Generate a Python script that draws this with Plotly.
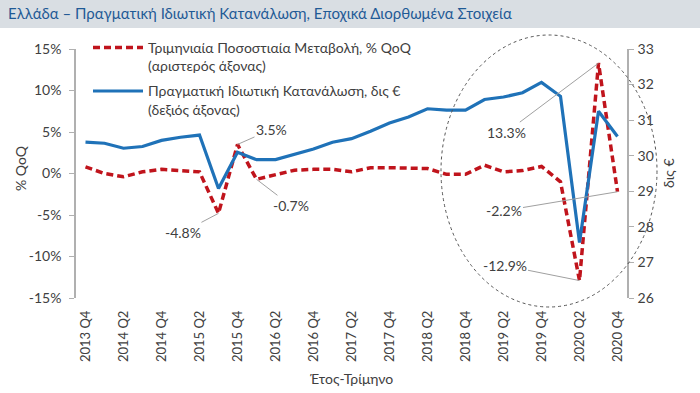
import plotly.graph_objects as go

quarters = ["2013 Q4",
            "2014 Q1", "2014 Q2", "2014 Q3", "2014 Q4",
            "2015 Q1", "2015 Q2", "2015 Q3", "2015 Q4",
            "2016 Q1", "2016 Q2", "2016 Q3", "2016 Q4",
            "2017 Q1", "2017 Q2", "2017 Q3", "2017 Q4",
            "2018 Q1", "2018 Q2", "2018 Q3", "2018 Q4",
            "2019 Q1", "2019 Q2", "2019 Q3", "2019 Q4",
            "2020 Q1", "2020 Q2", "2020 Q3", "2020 Q4"]

qoq_pct = [0.8, 0.0, -0.4, 0.2, 0.5, 0.3, 0.2, -4.8, 3.5, -0.7,
           -0.2, 0.4, 0.5, 0.5, 0.2, 0.7, 0.7, 0.6, 0.6, -0.1,
           -0.1, 1.0, 0.2, 0.35, 0.85, -1.0, -12.9, 13.3, -2.2]

consumption_bn = [30.38, 30.35, 30.21, 30.26, 30.43, 30.52, 30.58, 29.08, 30.10, 29.89,
                  29.89, 30.05, 30.19, 30.38, 30.48, 30.69, 30.92, 31.09, 31.32, 31.28,
                  31.28, 31.58, 31.65, 31.77, 32.06, 31.67, 27.56, 31.25, 30.54]

left_ticks = [-15, -10, -5, 0, 5, 10, 15]
right_ticks = [26, 27, 28, 29, 30, 31, 32, 33]

# labelled points: (index, text, ax, ay)
labels = [(8, "3.5%", 34, -15), (9, "-0.7%", 34, 26), (7, "-4.8%", -36, 19),
          (27, "13.3%", -92, 69), (28, "-2.2%", -114, 19), (26, "-12.9%", -75, -15)]

FONT = "Lato"
TXT = "#404040"
AX = "#b0b0b0"
RED = "#c0141c"
BLUE = "#1f72b8"

fig = go.Figure()
fig.add_trace(go.Scatter(
    x=quarters, y=qoq_pct, mode="lines", yaxis="y", xaxis="x",
    name="Τριμηνιαία Ποσοστιαία Μεταβολή, % QoQ<br>(αριστερός άξονας)",
    line=dict(color=RED, width=3.5, dash="7px,4px"), legendgroup="a"))
fig.add_trace(go.Scatter(
    x=quarters, y=consumption_bn, mode="lines", yaxis="y2", xaxis="x",
    name="Πραγματική Ιδιωτική Κατανάλωση, δις €<br>(δεξιός άξονας)",
    line=dict(color=BLUE, width=3.2), legendgroup="b"))

L, R, T, B = 76, 73, 49, 95
W, H = 700, 393
pw, ph = W - L - R, H - T - B


def px_x(px):
    return (px - L) / pw


def px_y(py):
    return (H - B - py) / ph


annotations = []
for i, txt, ax, ay in labels:
    annotations.append(dict(
        x=quarters[i], y=qoq_pct[i], xref="x", yref="y", text=txt,
        showarrow=True, arrowhead=0, arrowwidth=1, arrowcolor="#a0a0a0",
        ax=ax, ay=ay, font=dict(family=FONT, size=14, color=TXT)))

annotations += [
    dict(text="% QoQ", xref="paper", yref="paper", x=px_x(20), y=px_y(168),
         xanchor="center", yanchor="middle",
         textangle=-90, showarrow=False, font=dict(family=FONT, size=14, color=TXT)),
    dict(text="δις €", xref="paper", yref="paper", x=px_x(668), y=px_y(173),
         xanchor="center", yanchor="middle",
         textangle=-90, showarrow=False, font=dict(family=FONT, size=14, color=TXT)),
    dict(text="Έτος-Τρίμηνο", xref="paper", yref="paper", x=0.5, y=px_y(378),
         xanchor="center", yanchor="middle",
         showarrow=False, font=dict(family=FONT, size=14, color=TXT)),
]

shapes = [
    dict(type="rect", xref="paper", yref="paper", x0=px_x(0), x1=px_x(W),
         y0=px_y(0), y1=px_y(28), fillcolor="#d9dee3", line=dict(width=0), layer="below"),
    dict(type="circle", xref="paper", yref="paper", x0=px_x(441), x1=px_x(657),
         y0=px_y(307), y1=px_y(35), line=dict(color="#555555", width=1, dash="dot")),
]

fig.update_layout(
    width=W, height=H,
    margin=dict(l=L, r=R, t=T, b=B, autoexpand=False),
    paper_bgcolor="white", plot_bgcolor="white",
    font=dict(family=FONT, size=14, color=TXT),
    title=dict(text="Ελλάδα – Πραγματική Ιδιωτική Κατανάλωση, Εποχικά Διορθωμένα Στοιχεία",
               x=8 / W, xanchor="left", y=1 - 14 / H, yanchor="middle",
               font=dict(family=FONT, size=15, color="#1f5a96")),
    xaxis=dict(type="category", range=[-0.5, len(quarters) - 0.5],
               tickmode="linear", tick0=0, dtick=2, tickangle=-90,
               showline=False, ticks="", showgrid=False, zeroline=False, automargin=False,
               ticklabelstandoff=9, tickfont=dict(size=13, color=TXT)),
    xaxis2=dict(overlaying="x", anchor="free", position=0.5, automargin=False,
                range=[-0.5, len(quarters) - 0.5], tickmode="linear", tick0=-0.5, dtick=1,
                ticks="outside", ticklen=4, tickcolor=AX, showline=True, linecolor=AX,
                linewidth=1.5, showticklabels=False, showgrid=False, zeroline=False),
    yaxis=dict(range=[-15, 15], tickvals=left_ticks, automargin=False,
               ticktext=[f"{v}%" for v in left_ticks],
               showline=True, linecolor=AX, linewidth=1.5, ticks="outside", ticklen=5,
               tickcolor=AX, showgrid=False, zeroline=False, ticklabelstandoff=5),
    yaxis2=dict(range=[26, 33], tickvals=right_ticks, overlaying="y", side="right",
                anchor="x", showline=True, linecolor=AX, linewidth=1.5, ticks="outside",
                ticklen=5, tickcolor=AX, showgrid=False, zeroline=False, automargin=False,
                ticklabelstandoff=1),
    legend=dict(x=px_x(88), y=px_y(32), xanchor="left", yanchor="top",
                bgcolor="rgba(0,0,0,0)", valign="top", tracegroupgap=4,
                itemwidth=50, font=dict(family=FONT, size=14, color=TXT)),
    showlegend=True,
    annotations=annotations,
    shapes=shapes,
)

fig.write_html("out.html", config={"displayModeBar": False},
               post_script="document.body.style.margin='0';document.body.style.padding='0';")
